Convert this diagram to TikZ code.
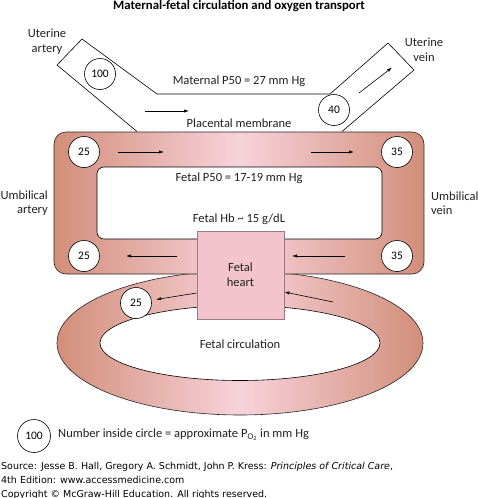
\documentclass[tikz,border=0pt]{standalone}
\usepackage{fontspec}
\setmainfont{Carlito}
\newfontfamily\srcfont{DejaVu Sans}
\usetikzlibrary{arrows.meta}
\definecolor{edgec}{HTML}{D28E7A}
\definecolor{midc}{HTML}{F8D2DA}
\definecolor{heartc}{HTML}{F4C4CE}
\definecolor{heartb}{HTML}{9A7A82}
\definecolor{txt}{HTML}{231F20}
\definecolor{membr}{HTML}{A8A8A8}
\begin{document}
\begin{tikzpicture}[x=1pt,y=-1pt,
  po2/.style={circle,draw,line width=0.6pt,fill=white,minimum size=31pt,inner sep=0pt,font=\fontsize{11.5}{12}\selectfont},
  lbl/.style={font=\fontsize{12.5}{14.6}\selectfont, inner sep=0pt, text=txt},
  flow/.style={-{Latex[length=5pt,width=3.2pt]}, line width=0.6pt},
  ring/.style={left color=edgec,right color=edgec,middle color=midc,draw=black!85,line width=0.6pt},
  src/.style={font=\srcfont\fontsize{9.5}{10}\selectfont, inner sep=0pt, anchor=base west}]
\useasboundingbox (0,0) rectangle (478,498);

% title
\node (title) [font=\bfseries\fontsize{12.8}{13}\selectfont, inner sep=0pt] at (239,6) {Maternal-fetal circulation and oxygen transport};

% fetal circulation ellipse
\shadedraw[ring] (240,343) ellipse [x radius=183, y radius=72];
\draw[fill=white,line width=0.6pt] (240,343) ellipse [x radius=140, y radius=37.5];
\node (fcirc) [lbl] at (240,344) {Fetal circulation};

% placental loop
\shadedraw[ring, rounded corners=12pt] (54,132) rectangle (424,274);
\draw[fill=white, line width=0.6pt, rounded corners=7pt] (97,167) rectangle (382,239);

% uterine vessels
\coordinate (A) at (82,39);
\coordinate (B) at (57,65);
\coordinate (C) at (157,94);
\coordinate (E) at (137,131.5);
\coordinate (F) at (388,43);
\coordinate (G) at (414,70);
\coordinate (D) at (330,94);
\coordinate (H) at (342,131.5);
\draw[line width=0.6pt] (C) -- (A) -- (B) -- (E);
\draw[line width=0.6pt] (D) -- (F) -- (G) -- (H);
\draw[membr, line width=1.3pt] (C) -- (D);

\node (c100) [po2] at (100,74) {100};
\node (c40) [po2] at (334,110) {40};

\coordinate (a1s) at (145,111); \coordinate (a1e) at (189,111);
\draw[flow] (a1s) -- (a1e);
\coordinate (v1s) at (359,93); \coordinate (v1e) at (392,67.5);
\draw[flow] (v1s) -- (v1e);

\node (mp50) [lbl] at (239,81) {Maternal P50 = 27 mm Hg};
\node (pm) [lbl] at (239,123) {Placental membrane};
\node (uart) [lbl, align=center] at (47,42) {Uterine\\artery};
\node (uvein) [lbl, align=center] at (424,50) {Uterine\\vein};

% circles on placental loop
\node (c25a) [po2] at (84,152) {25};
\node (c35a) [po2] at (397,152) {35};
\node (c25b) [po2] at (84,256) {25};
\node (c35b) [po2] at (397,256) {35};

\coordinate (t1s) at (118,152); \coordinate (t1e) at (164,152);
\coordinate (t2s) at (311,152); \coordinate (t2e) at (354,152);
\coordinate (b1s) at (177,256); \coordinate (b1e) at (126,256);
\coordinate (b2s) at (345,256); \coordinate (b2e) at (292,256);
\draw[flow] (t1s) -- (t1e);
\draw[flow] (t2s) -- (t2e);
\draw[flow] (b1s) -- (b1e);
\draw[flow] (b2s) -- (b2e);

\node (fp50) [lbl] at (239,178) {Fetal P50 = 17-19 mm Hg};
\node (fhb) [lbl] at (239,219) {Fetal Hb \textasciitilde{} 15 g/dL};
\node (uma) [lbl, align=right, anchor=east] at (48,203) {Umbilical\\artery};
\node (umv) [lbl, align=left, anchor=west] at (431,203) {Umbilical\\vein};

% fetal heart
\node (heart) [lbl, draw=heartb, line width=0.8pt, fill=heartc, minimum width=87pt, minimum height=88pt, align=center] at (240.5,275) {Fetal\\heart};

\node (c25c) [po2] at (136,303) {25};
\coordinate (h1e) at (156,299.5);
\draw[flow] (heart.west |- 0,293) -- (h1e);
\coordinate (h2s) at (333,302);
\draw[flow] (h2s) -- (heart.east |- 0,292);

% legend
\node (leg) [po2, minimum size=33pt] at (34,436) {100};
\node (legt) [lbl, anchor=west] at (58,435) {Number inside circle = approximate P\textsubscript{O\textsubscript{2}} in mm Hg};

% source
\node (src1) [src] at (1,469) {Source: Jesse B. Hall, Gregory A. Schmidt, John P. Kress: \textit{Principles of Critical Care},};
\node (src2) [src] at (1,483.5) {4th Edition: www.accessmedicine.com};
\node (src3) [src] at (1,497) {Copyright \textcopyright\ McGraw-Hill Education. All rights reserved.};
\end{tikzpicture}
\end{document}
